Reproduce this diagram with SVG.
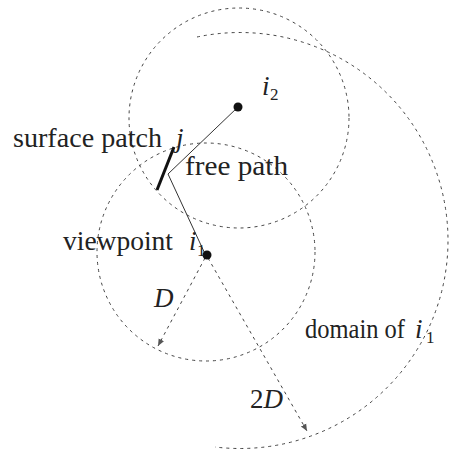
<svg xmlns="http://www.w3.org/2000/svg" width="450" height="455" viewBox="0 0 450 455">
<style>
.dash{fill:none;stroke:#444;stroke-width:1;stroke-dasharray:3 4}
.t{font-size:27px;fill:#222}
.it{font-style:italic}
.sub{font-size:17px}
.thin{fill:none;stroke:#333;stroke-width:1}
</style>
<defs>
<marker id="ah" markerWidth="8" markerHeight="8" refX="7" refY="4" orient="auto" markerUnits="userSpaceOnUse">
<path d="M0,1 L7,4 L0,7 z" fill="#555"/>
</marker>
</defs>
<rect width="450" height="455" fill="#fff"/>
<g id="connectors">
<circle class="dash" cx="239" cy="118" r="110"/>
<circle class="dash" cx="206" cy="252" r="109"/>
<path class="dash" d="M197,37 A208,208 0 1 1 215,447"/>
<line class="dash" x1="205" y1="258" x2="158" y2="346" marker-end="url(#ah)"/>
<line class="dash" x1="208" y1="258" x2="307" y2="431" marker-end="url(#ah)"/>
<polyline class="thin" points="238,107 168,174 206,256"/>
</g>
<g font-family="Liberation Serif, Times New Roman, serif">
<g id="patch">
<line x1="157" y1="190" x2="174" y2="147" stroke="#111" stroke-width="3"/>
<text class="t" x="13" y="147" textLength="149" lengthAdjust="spacingAndGlyphs">surface patch</text>
<text class="t it" x="176" y="147">j</text>
</g>
<g id="freepath">
<text class="t" x="185" y="175" textLength="103" lengthAdjust="spacingAndGlyphs">free path</text>
</g>
<g id="i1">
<circle cx="207" cy="255" r="4.5" fill="#111"/>
<text class="t" x="63" y="250" textLength="110" lengthAdjust="spacingAndGlyphs">viewpoint</text>
<text class="t it" x="189" y="250">i</text>
<text class="t sub" x="197" y="256">1</text>
</g>
<g id="i2">
<circle cx="238" cy="107" r="4.5" fill="#111"/>
<text class="t it" x="262" y="95">i</text>
<text class="t sub" x="270" y="100">2</text>
</g>
<g id="domain">
<text class="t" x="305" y="338" textLength="100" lengthAdjust="spacingAndGlyphs">domain of</text>
<text class="t it" x="415" y="338">i</text>
<text class="t sub" x="426" y="343">1</text>
</g>
<g id="labels">
<text class="t it" x="154" y="307">D</text>
<text class="t" x="250" y="408">2<tspan class="it">D</tspan></text>
</g>
</g>
</svg>
